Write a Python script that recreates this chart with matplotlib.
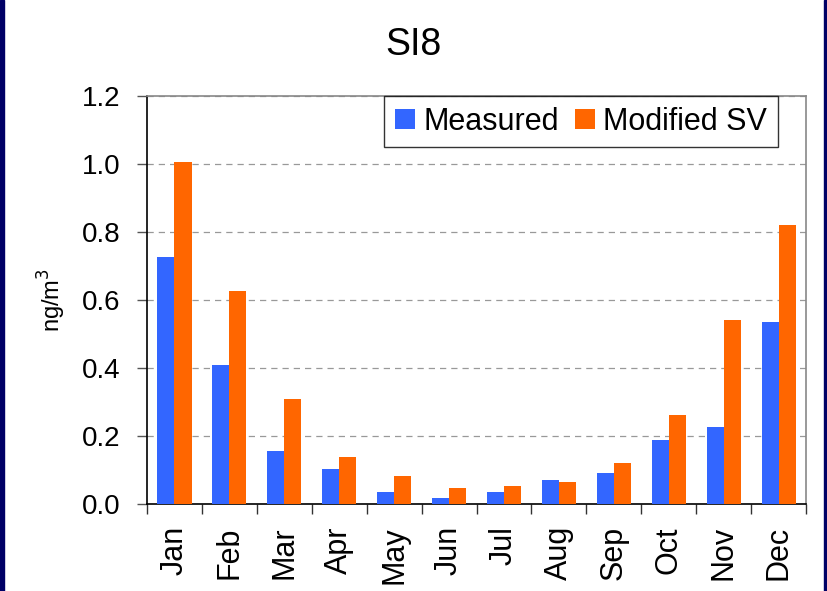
import numpy as np
import matplotlib.pyplot as plt
from matplotlib.patches import Rectangle

plt.rcParams['font.family'] = ['Liberation Sans', 'DejaVu Sans']

months = ['Jan', 'Feb', 'Mar', 'Apr', 'May', 'Jun', 'Jul', 'Aug', 'Sep', 'Oct', 'Nov', 'Dec']
measured = [0.725, 0.41, 0.155, 0.103, 0.036, 0.018, 0.036, 0.071, 0.091, 0.188, 0.227, 0.535]
modified_sv = [1.005, 0.625, 0.31, 0.138, 0.082, 0.047, 0.053, 0.065, 0.12, 0.262, 0.54, 0.82]

fig = plt.figure(figsize=(8.27, 5.91), dpi=100)
ax = fig.add_axes([0.1778, 0.1472, 0.7968, 0.6904])

x = np.arange(len(months))
w = 0.31
ax.bar(x - w / 2, measured, w, color='#3366FF', label='Measured', zorder=3)
ax.bar(x + w / 2, modified_sv, w, color='#FF6600', label='Modified SV', zorder=3)

ax.set_xlim(-0.5, len(months) - 0.5)
ax.set_ylim(0, 1.2)
yt = np.arange(0, 1.21, 0.2)
ax.set_yticks(yt)
ax.set_yticklabels([f'{v:.1f}' for v in yt])
ax.yaxis.grid(True, linestyle=(0, (5, 4)), color='#999999', linewidth=0.9, zorder=0)

# labels at centres, tick marks at the boundaries
ax.set_xticks(x)
ax.set_xticklabels(months, rotation=90, fontsize=22)
ax.tick_params(axis='x', which='major', length=0, pad=16)
ax.set_xticks(np.arange(-0.5, len(months)), minor=True)
ax.tick_params(axis='x', which='minor', length=7, width=1, color='#333333')
ax.tick_params(axis='y', length=7, width=1, color='#555555', labelsize=20, pad=12)

ax.spines['left'].set_color('black')
ax.spines['bottom'].set_color('black')
ax.spines['top'].set_color('#888888')
ax.spines['right'].set_color('#888888')
for s in ax.spines.values():
    s.set_linewidth(1.2)

ax.set_ylabel('ng/m$^3$', fontsize=17, labelpad=10)
fig.text(0.5, 0.907, 'SI8', fontsize=27, ha='center', va='baseline')

leg = ax.legend(loc='upper right', bbox_to_anchor=(0.9575, 1.0), ncol=2, fontsize=22,
                frameon=True, fancybox=False, handlelength=0.66, handleheight=0.66,
                handletextpad=0.26, columnspacing=0.55, borderpad=0.35, borderaxespad=0)
leg.get_frame().set_edgecolor('black')
leg.get_frame().set_linewidth(1)

# navy edge strips
fig.add_artist(Rectangle((0, 0), 4 / 827, 1, transform=fig.transFigure, color='#000066'))
fig.add_artist(Rectangle((824 / 827, 0), 3 / 827, 1, transform=fig.transFigure, color='#000066'))

fig.savefig('out.png', dpi=100)
